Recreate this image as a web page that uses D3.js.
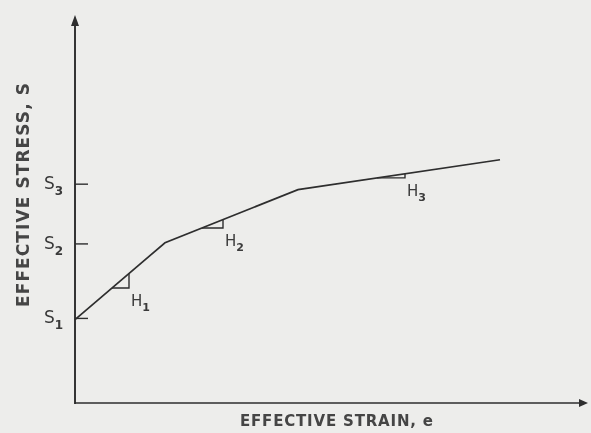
<!DOCTYPE html>
<html>
<head>
<meta http-equiv="Content-Type" content="text/html; charset=utf-8">
<script src="https://cdnjs.cloudflare.com/ajax/libs/d3/7.8.5/d3.min.js"></script>
<style>
  body { margin: 0; background: #ededeb; }
  text { font-family: "DejaVu Sans", sans-serif; fill: #3a3a3a; }
</style>
</head>
<body>
<div id="chart"></div>
<script>
// ---- data (arbitrary units)
var strain = [0, 18, 44.6, 85];
var stress = [21.5, 41.3, 55, 62.7];

var tickNames = ["S", "S", "S"];
var tickSubs = ["1", "2", "3"];
var tickValues = [21.8, 41, 56.4];

// hardening-slope marks: start / end strain on the curve
var hardNames = ["H", "H", "H"];
var hardSubs = ["1", "2", "3"];
var hardFrom = [7.4, 25.4, 60.4];
var hardTo = [10.8, 29.6, 66];

var xTitle = "EFFECTIVE STRAIN, e";
var yTitle = "EFFECTIVE STRESS, S";

// ---- svg
var width = 591, height = 433;
var svg = d3.select("#chart").append("svg")
  .attr("width", width).attr("height", height);

svg.append("defs").append("filter").attr("id", "soft")
  .append("feGaussianBlur").attr("stdDeviation", 0.45);

var g = svg.append("g").attr("filter", "url(#soft)");

var x = d3.scaleLinear().domain([0, 102.6]).range([75, 588]);
var y = d3.scaleLinear().domain([0, 100]).range([403, 15]);

var ink = "#2e2e2e";

// axes
g.append("line").attr("x1", x(0)).attr("x2", x(102.6) - 6)
  .attr("y1", y(0)).attr("y2", y(0))
  .attr("stroke", ink).attr("stroke-width", 1.7);
g.append("line").attr("x1", x(0)).attr("x2", x(0))
  .attr("y1", y(0) + 1).attr("y2", y(100) + 8)
  .attr("stroke", ink).attr("stroke-width", 1.9);

// arrow heads
g.append("path")
  .attr("d", "M" + x(102.6) + "," + y(0) + " l-9,-4 l0,8 z")
  .attr("fill", ink);
g.append("path")
  .attr("d", "M" + x(0) + "," + y(100) + " l-4,11 l8,0 z")
  .attr("fill", ink);

// y ticks
g.selectAll(".tick").data(tickValues).enter().append("line")
  .attr("x1", x(0)).attr("x2", x(0) + 13)
  .attr("y1", function(d) { return y(d); })
  .attr("y2", function(d) { return y(d); })
  .attr("stroke", ink).attr("stroke-width", 1.4);

var tl = g.selectAll(".tl").data(tickValues).enter().append("text")
  .attr("x", 44)
  .attr("y", function(d) { return y(d) + 5; })
  .style("font-size", "17px");
tl.append("tspan").text(function(d, i) { return tickNames[i]; });
tl.append("tspan").attr("dy", 6).style("font-size", "12px").style("font-weight", "bold")
  .text(function(d, i) { return tickSubs[i]; });

// curve
var pts = strain.map(function(d, i) { return [d, stress[i]]; });
var line = d3.line().x(function(d) { return x(d[0]); }).y(function(d) { return y(d[1]); });
g.append("path").datum(pts).attr("d", line)
  .attr("fill", "none").attr("stroke", ink).attr("stroke-width", 1.7);

function stressAt(e) {
  for (var i = 0; i < strain.length - 1; i++) {
    if (e <= strain[i + 1]) {
      var t = (e - strain[i]) / (strain[i + 1] - strain[i]);
      return stress[i] + t * (stress[i + 1] - stress[i]);
    }
  }
  return stress[stress.length - 1];
}

// slope triangles
hardFrom.forEach(function(e0, i) {
  var e1 = hardTo[i];
  var s0 = stressAt(e0), s1 = stressAt(e1);
  g.append("path")
    .attr("d", "M" + x(e0) + "," + y(s0) + " L" + x(e1) + "," + y(s0) + " L" + x(e1) + "," + y(s1))
    .attr("fill", "none").attr("stroke", ink).attr("stroke-width", 1.4);
  var t = g.append("text")
    .attr("x", x(e1) + 2)
    .attr("y", y(s0) + 18)
    .style("font-size", "15px");
  t.append("tspan").text(hardNames[i]);
  t.append("tspan").attr("dy", 5).style("font-size", "11px").style("font-weight", "bold").text(hardSubs[i]);
});

// titles
g.append("text")
  .attr("x", 240).attr("y", 426)
  .attr("textLength", 193).attr("lengthAdjust", "spacing")
  .style("font-size", "15px").style("font-weight", "bold").style("fill", "#444")
  .text(xTitle);

g.append("text")
  .attr("transform", "translate(29,307) rotate(-90)")
  .attr("textLength", 224).attr("lengthAdjust", "spacing")
  .style("font-size", "17px").style("font-weight", "bold").style("fill", "#444")
  .text(yTitle);
</script>
</body>
</html>
